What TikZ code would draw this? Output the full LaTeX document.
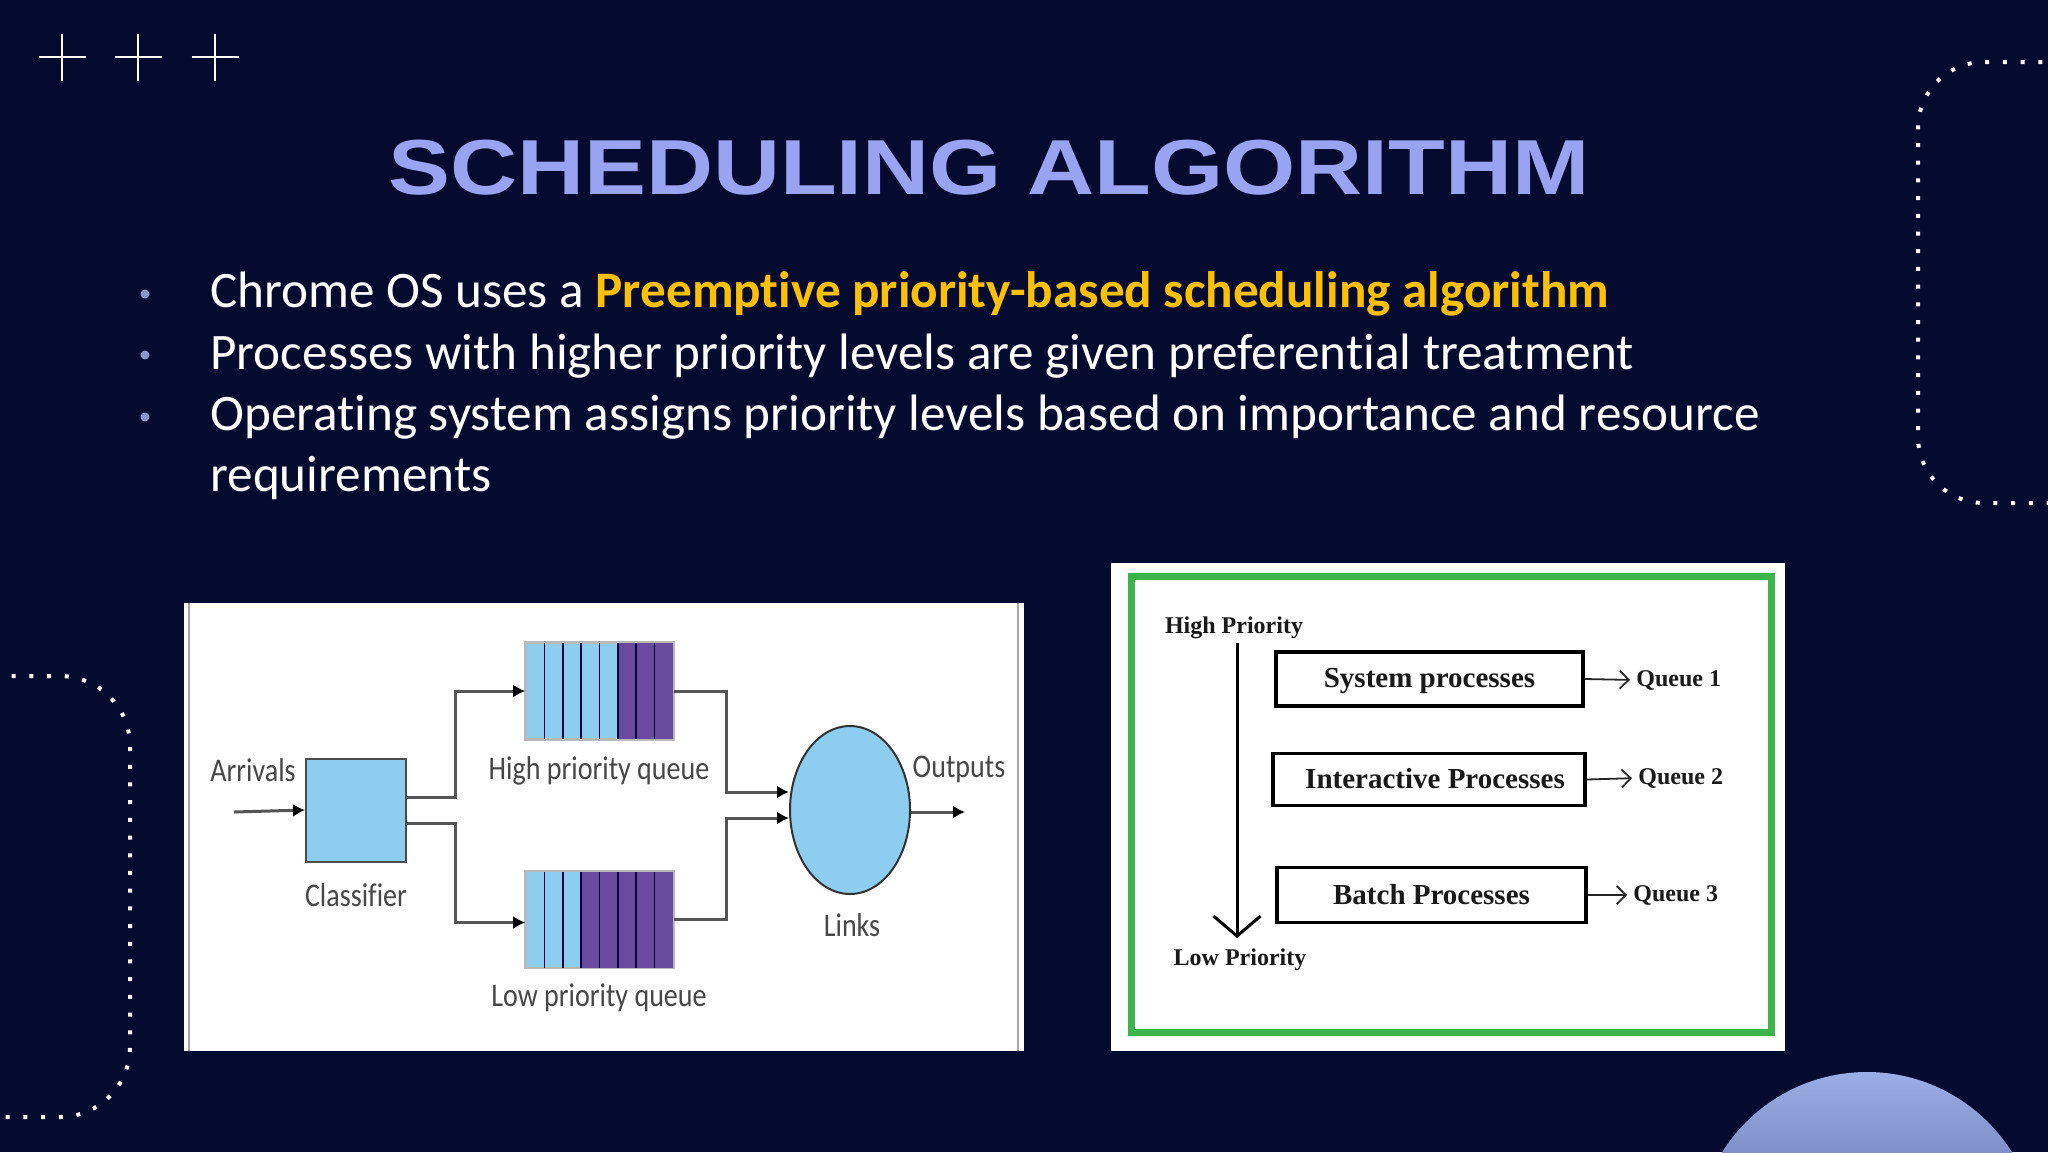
\documentclass[tikz,border=0pt]{standalone}
\usepackage{fontspec}
\setmainfont{Carlito}[Ligatures=NoCommon]
\newfontfamily\titlefont{Liberation Sans}[FakeStretch=1.19]
\newfontfamily\lblfont{Carlito}[FakeStretch=0.85,Ligatures=NoCommon]
\newfontfamily\serfont{Liberation Serif}
\usetikzlibrary{arrows.meta,shapes.geometric}
\definecolor{bg}{HTML}{050A2F}
\definecolor{titlecol}{HTML}{98A3F2}
\definecolor{dotcol}{HTML}{8A96C8}
\definecolor{hl}{HTML}{FFC000}
\definecolor{lblue}{HTML}{8CCDF0}
\definecolor{purp}{HTML}{6A4A9E}
\definecolor{lnk}{HTML}{555555}
\definecolor{grn}{HTML}{3CB44B}
\definecolor{circtop}{HTML}{9AAEE6}
\definecolor{circbot}{HTML}{8090C8}
\tikzset{
  crossln/.style={white, line width=1.25pt},
  dotarc/.style={white, line width=2pt, dash pattern=on 2pt off 6.85pt},
  btxt/.style={anchor=base west, inner sep=0, text=white, font=\fontsize{25.6}{30}\selectfont},
  bdot/.style={circle, fill=dotcol, minimum size=4.5pt, inner sep=0},
  lbl/.style={text=black!72, font=\lblfont\fontsize{16.5}{19}\selectfont, inner sep=0},
  flow/.style={draw=lnk, line width=1.5pt},
  arr/.style={flow, -{Latex[length=6pt,width=6.5pt,color=black]}},
  queue/.style={draw=gray!55, line width=0.8pt, minimum width=73.5pt, minimum height=48pt, inner sep=0},
  qdiv/.style={draw=black!75!blue, line width=0.8pt},
  pbox/.style={draw=black, line width=1.7pt, fill=white, inner sep=0, text=black!90,
     font=\serfont\bfseries\fontsize{14.5}{17}\selectfont},
  sertxt/.style={inner sep=0, text=black!90, font=\serfont\bfseries\fontsize{12}{14}\selectfont},
  qarr/.style={draw=black!85, line width=0.9pt, -{Straight Barb[length=4.5pt,width=9pt]}, shorten >=3pt},
  varr/.style={draw=black, line width=1.5pt, -{Straight Barb[length=10pt,width=23.5pt,line width=1.5pt]}}
}
\begin{document}
\begin{tikzpicture}[x=0.5pt,y=-0.5pt]
\useasboundingbox (0,0) rectangle (2048,1152);
\fill[bg] (0,0) rectangle (2048,1152);

% crosses
\foreach \cx in {62,138,215}{
  \draw[crossln] (\cx-23.5,57) -- (\cx+23.5,57);
  \draw[crossln] (\cx,33.5) -- (\cx,80.5);
}

% dotted arcs
\draw[dotarc, rounded corners=33pt] (2060,62) -- (1918,62) -- (1918,503) -- (2060,503);
\draw[dotarc, rounded corners=35pt] (-6,676) -- (130,676) -- (130,1117) -- (-6,1117);

% half circle bottom right
\begin{scope}
  \clip (1867,1243) circle [radius=85.5pt];
  \shade[top color=circtop, bottom color=circbot] (1690,1072) rectangle (2048,1152);
\end{scope}

% title
\node[anchor=base, inner sep=0, text=titlecol, font=\titlefont\bfseries\fontsize{39}{44}\selectfont] (title) at (989,194) {SCHEDULING ALGORITHM};

% bullets
\node[bdot] (d1) at (145,294) {};
\node[bdot] (d2) at (145,355) {};
\node[bdot] (d3) at (145,417) {};
\node[btxt] (b1) at (210,307) {Chrome OS uses a {\bfseries\color{hl}Preemptive priority-based scheduling algorithm}};
\node[btxt] (b2) at (210,369) {Processes with higher priority levels are given preferential treatment};
\node[btxt] (b3) at (210,430) {Operating system assigns priority levels based on importance and resource};
\node[btxt] (b4) at (210,491) {requirements};

% ---------- left image ----------
\fill[white] (184,603) rectangle (1024,1051);
\draw[gray!70, line width=1.2pt] (189,603) -- (189,1051);
\draw[gray!70, line width=1.2pt] (1018,603) -- (1018,1051);

\node[draw=black!70, line width=1pt, fill=lblue, minimum width=50pt, minimum height=51.5pt, inner sep=0] (cls) at (356,810) {};
% high priority queue
\node[queue, fill=lblue] (hq) at (599.5,691) {};
\fill[purp] (617.9,643) rectangle (673,739);
\foreach \i in {1,...,7}{ \draw[qdiv] (526+\i*18.375,643) -- (526+\i*18.375,739); }
\draw[gray!55, line width=0.8pt] (hq.north west) rectangle (hq.south east);
% low priority queue
\node[queue, fill=lblue] (lq) at (599.5,919.5) {};
\fill[purp] (581.1,871.5) rectangle (673,967.5);
\foreach \i in {1,...,7}{ \draw[qdiv] (526+\i*18.375,871.5) -- (526+\i*18.375,967.5); }
\draw[gray!55, line width=0.8pt] (lq.north west) rectangle (lq.south east);
% links
\node[ellipse, draw=black!80, line width=1pt, fill=lblue, minimum width=60pt, minimum height=84pt, inner sep=0] (links) at (850,810) {};

\coordinate (arrin) at (234,812);
\draw[arr] (arrin) -- (cls.west);
\draw[arr] ([yshift=6.5pt]cls.east) -- ++(48,0) |- (hq.west);
\draw[arr] ([yshift=-6.5pt]cls.east) -- ++(48,0) |- ([yshift=-1.5pt]lq.west);
\draw[arr] (hq.east) -- ++(53,0) |- ([yshift=9pt]links.west);
\draw[arr] (lq.east) -- ++(53,0) |- ([yshift=-4pt]links.west);
\draw[arr] ([yshift=-1pt]links.east) -- ++(54,0);

\node[lbl] (arrl) at (253,770) {Arrivals};
\node[lbl] (clsl) at (356,895) {Classifier};
\node[lbl] (hql) at (599,771) {High priority queue};
\node[lbl] (lql) at (599,998) {Low priority queue};
\node[lbl] (lnkl) at (852,925) {Links};
\node[lbl] (outl) at (959,769) {Outputs};

% ---------- right image ----------
\fill[white] (1111,563) rectangle (1785,1051);
\draw[grn, line width=3.5pt] (1131,576) rectangle (1771,1032);

\node[sertxt] (hp) at (1234,628) {High Priority};
\node[sertxt] (lp) at (1240,960) {Low Priority};
\coordinate (vtop) at (1237,643);
\coordinate (vbot) at (1237,938);
\draw[varr] (vtop) -- (vbot);

\node[pbox, minimum width=153.5pt, minimum height=27pt, text depth=1pt] (sp) at (1429.5,679) {System processes};
\node[pbox, minimum width=156pt, minimum height=26pt, text depth=1pt] (ip) at (1429,779.5) {\hspace*{6pt}Interactive Processes};
\node[pbox, minimum width=154.5pt, minimum height=27.5pt, text depth=1pt] (bp) at (1431.5,895) {Batch Processes};

\node[sertxt, anchor=west] (q1) at (1636,680) {Queue 1};
\node[sertxt, anchor=west] (q2) at (1638,778) {Queue 2};
\node[sertxt, anchor=west] (q3) at (1633,895) {Queue 3};
\draw[qarr] (sp.east) -- (q1.west);
\draw[qarr] (ip.east) -- (q2.west);
\draw[qarr] (bp.east) -- (q3.west);
\end{tikzpicture}
\end{document}
